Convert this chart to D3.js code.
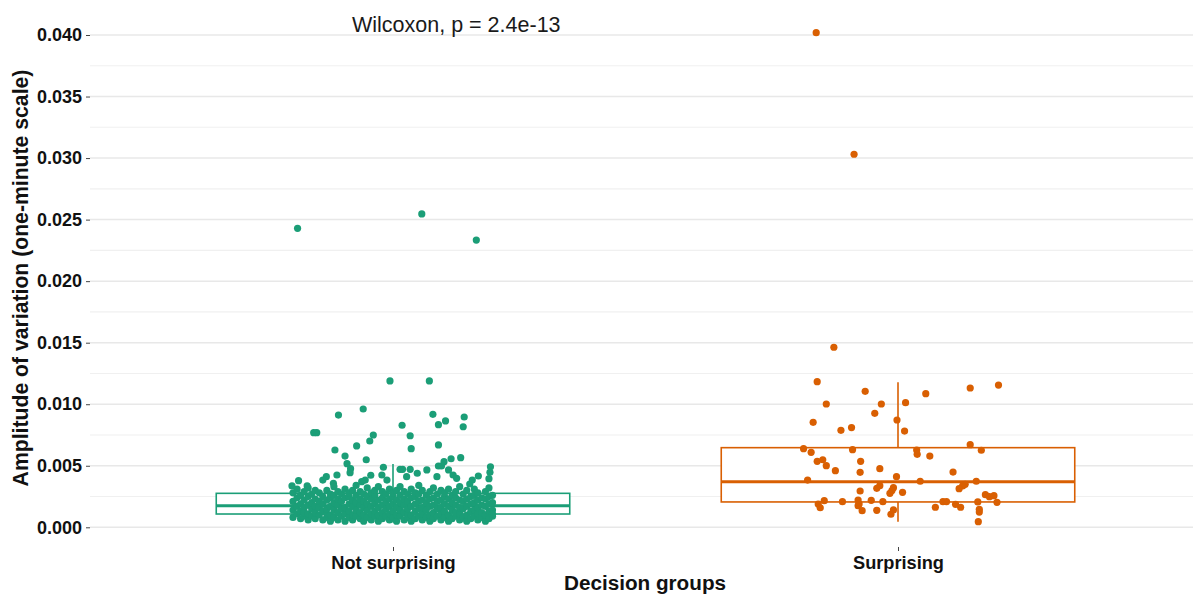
<!DOCTYPE html>
<html><head><meta charset="utf-8">
<script src="https://cdn.jsdelivr.net/npm/d3@7"></script>
<style>body{margin:0;background:#fff}svg{display:block}text{font-family:"Liberation Sans",Arial,sans-serif}</style>
</head><body><svg id="chart" width="1193" height="597"></svg>
<script>
// ---------------- data ----------------
const categories = ["Not surprising", "Surprising"];
const colors = ["#1B9E77", "#D95F02"];
const yTicks = [0, 0.005, 0.01, 0.015, 0.02, 0.025, 0.03, 0.035, 0.04];
const yMinor = [0.0025, 0.0075, 0.0125, 0.0175, 0.0225, 0.0275, 0.0325, 0.0375];
// box stats: [lower whisker, Q1, median, Q3, upper whisker]
const boxNotSurprising = [0.0004, 0.00108, 0.00176, 0.00276, 0.00514];
const boxSurprising = [0.00046, 0.00206, 0.00371, 0.00647, 0.01178];
const annotation = "Wilcoxon, p = 2.4e-13";
// points: [jitter (category units), value]
const notSurprisingPoints = [
[-0.189,0.02429],[0.057,0.02546],[0.165,0.02334],
[-0.006,0.01189],[0.072,0.01189],[-0.059,0.00961],[-0.108,0.00912],[0.079,0.00918],[0.090,0.00834],
[0.104,0.00864],[0.141,0.00896],[0.139,0.00817],[-0.157,0.00769],[-0.151,0.00769],[0.018,0.00829],
[0.034,0.00744],[-0.039,0.00750],[-0.046,0.00701],[-0.072,0.00661],[0.036,0.00639],[0.090,0.00669],
[-0.115,0.00628],[-0.095,0.00579],[-0.053,0.00549],[-0.091,0.00517],[-0.084,0.00476],[-0.085,0.00444],
[-0.019,0.00488],[0.014,0.00471],[0.019,0.00471],[0.034,0.00471],[0.067,0.00466],[0.090,0.00498],
[0.096,0.00498],[0.101,0.00533],[0.115,0.00557],[0.134,0.00566],[0.193,0.00492],[0.192,0.00447],
[0.190,0.00395],[-0.044,0.00423],[-0.055,0.00384],[-0.062,0.00371],[-0.022,0.00425],[-0.012,0.00384],
[0.027,0.00411],[0.048,0.00439],[0.087,0.00411],[0.110,0.00466],[0.119,0.00425],[0.126,0.00398],
[0.152,0.00352],[0.157,0.00384],[0.169,0.00417],[-0.132,0.00411],[-0.139,0.00384],[-0.187,0.00379],
[-0.200,0.00336],[-0.170,0.00336],[-0.118,0.00358],[-0.111,0.00425],
[-0.198,0.0008],[-0.198,0.0014],[-0.198,0.0021],[-0.198,0.0028],
[-0.190,0.0011],[-0.190,0.0017],[-0.190,0.0024],[-0.190,0.0031],
[-0.183,0.0007],[-0.183,0.0013],[-0.183,0.0019],[-0.183,0.0026],
[-0.176,0.0009],[-0.176,0.0016],[-0.176,0.0022],[-0.176,0.0029],[-0.176,0.0012],
[-0.168,0.0006],[-0.168,0.0011],[-0.168,0.0018],[-0.168,0.0025],[-0.168,0.0032],
[-0.161,0.0009],[-0.161,0.0015],[-0.161,0.0020],[-0.161,0.0027],
[-0.154,0.0007],[-0.154,0.0012],[-0.154,0.0017],[-0.154,0.0023],[-0.154,0.0030],
[-0.146,0.0010],[-0.146,0.0016],[-0.146,0.0021],[-0.146,0.0028],
[-0.139,0.0006],[-0.139,0.0013],[-0.139,0.0019],[-0.139,0.0025],
[-0.131,0.0008],[-0.131,0.0011],[-0.131,0.0015],[-0.131,0.0022],[-0.131,0.0030],
[-0.124,0.0005],[-0.124,0.0010],[-0.124,0.0017],[-0.124,0.0024],[-0.124,0.0027],
[-0.117,0.0008],[-0.117,0.0014],[-0.117,0.0020],[-0.117,0.0026],[-0.117,0.0033],
[-0.109,0.0006],[-0.109,0.0012],[-0.109,0.0018],[-0.109,0.0023],[-0.109,0.0029],
[-0.102,0.0009],[-0.102,0.0015],[-0.102,0.0021],[-0.102,0.0027],
[-0.095,0.0005],[-0.095,0.0011],[-0.095,0.0016],[-0.095,0.0024],[-0.095,0.0031],
[-0.087,0.0008],[-0.087,0.0013],[-0.087,0.0019],[-0.087,0.0025],[-0.087,0.0028],
[-0.080,0.0006],[-0.080,0.0010],[-0.080,0.0017],[-0.080,0.0022],[-0.080,0.0030],
[-0.073,0.0009],[-0.073,0.0014],[-0.073,0.0020],[-0.073,0.0026],[-0.073,0.0034],
[-0.065,0.0007],[-0.065,0.0012],[-0.065,0.0018],[-0.065,0.0023],[-0.065,0.0029],
[-0.058,0.0005],[-0.058,0.0010],[-0.058,0.0016],[-0.058,0.0021],[-0.058,0.0027],
[-0.051,0.0008],[-0.051,0.0014],[-0.051,0.0019],[-0.051,0.0025],[-0.051,0.0032],
[-0.043,0.0006],[-0.043,0.0011],[-0.043,0.0017],[-0.043,0.0023],[-0.043,0.0028],
[-0.036,0.0009],[-0.036,0.0013],[-0.036,0.0020],[-0.036,0.0026],[-0.036,0.0030],
[-0.029,0.0005],[-0.029,0.0010],[-0.029,0.0016],[-0.029,0.0022],[-0.029,0.0033],
[-0.021,0.0007],[-0.021,0.0012],[-0.021,0.0018],[-0.021,0.0024],[-0.021,0.0029],
[-0.014,0.0009],[-0.014,0.0015],[-0.014,0.0021],[-0.014,0.0027],
[-0.007,0.0006],[-0.007,0.0011],[-0.007,0.0017],[-0.007,0.0023],[-0.007,0.0031],
[0.000,0.0008],[0.000,0.0013],[0.000,0.0019],[0.000,0.0025],[0.000,0.0028],
[0.007,0.0005],[0.007,0.0010],[0.007,0.0016],[0.007,0.0022],[0.007,0.0030],
[0.014,0.0009],[0.014,0.0014],[0.014,0.0020],[0.014,0.0026],[0.014,0.0033],
[0.022,0.0006],[0.022,0.0012],[0.022,0.0018],[0.022,0.0023],[0.022,0.0029],
[0.029,0.0008],[0.029,0.0011],[0.029,0.0015],[0.029,0.0021],[0.029,0.0027],
[0.036,0.0005],[0.036,0.0010],[0.036,0.0017],[0.036,0.0024],[0.036,0.0031],
[0.044,0.0007],[0.044,0.0013],[0.044,0.0019],[0.044,0.0025],[0.044,0.0028],
[0.051,0.0009],[0.051,0.0015],[0.051,0.0021],[0.051,0.0027],[0.051,0.0034],
[0.058,0.0006],[0.058,0.0011],[0.058,0.0016],[0.058,0.0022],[0.058,0.0030],
[0.066,0.0008],[0.066,0.0014],[0.066,0.0020],[0.066,0.0026],
[0.073,0.0005],[0.073,0.0010],[0.073,0.0017],[0.073,0.0023],[0.073,0.0029],
[0.080,0.0007],[0.080,0.0012],[0.080,0.0018],[0.080,0.0024],[0.080,0.0032],
[0.088,0.0009],[0.088,0.0015],[0.088,0.0021],[0.088,0.0027],
[0.095,0.0006],[0.095,0.0011],[0.095,0.0016],[0.095,0.0022],[0.095,0.0030],
[0.102,0.0008],[0.102,0.0013],[0.102,0.0019],[0.102,0.0025],[0.102,0.0028],
[0.110,0.0005],[0.110,0.0010],[0.110,0.0017],[0.110,0.0023],[0.110,0.0031],
[0.117,0.0007],[0.117,0.0014],[0.117,0.0020],[0.117,0.0026],
[0.124,0.0009],[0.124,0.0012],[0.124,0.0018],[0.124,0.0024],[0.124,0.0029],
[0.132,0.0006],[0.132,0.0011],[0.132,0.0016],[0.132,0.0022],[0.132,0.0033],
[0.139,0.0008],[0.139,0.0015],[0.139,0.0021],[0.139,0.0027],
[0.146,0.0005],[0.146,0.0010],[0.146,0.0017],[0.146,0.0023],[0.146,0.0030],
[0.154,0.0007],[0.154,0.0013],[0.154,0.0019],[0.154,0.0025],
[0.161,0.0009],[0.161,0.0014],[0.161,0.0020],[0.161,0.0026],[0.161,0.0031],
[0.168,0.0006],[0.168,0.0011],[0.168,0.0016],[0.168,0.0022],[0.168,0.0028],
[0.176,0.0008],[0.176,0.0012],[0.176,0.0018],[0.176,0.0024],
[0.183,0.0005],[0.183,0.0010],[0.183,0.0017],[0.183,0.0023],[0.183,0.0029],
[0.190,0.0007],[0.190,0.0013],[0.190,0.0019],[0.190,0.0025],[0.190,0.0032],
[0.197,0.0009],[0.197,0.0014],[0.197,0.0020],[0.197,0.0026],[0.197,0.0011]
];
const surprisingPoints = [
[-0.162,0.04019],[-0.087,0.03031],
[-0.127,0.01463],[-0.160,0.01183],[-0.065,0.01105],[0.143,0.01132],[0.199,0.01156],[0.055,0.01086],
[-0.142,0.01002],[-0.033,0.01002],[0.015,0.01013],[-0.046,0.00926],[-0.002,0.00872],[-0.168,0.00853],
[0.013,0.00782],[-0.113,0.00788],[-0.092,0.00810],[0.143,0.00671],[-0.187,0.00639],[-0.172,0.00609],
[-0.090,0.00631],[0.037,0.00628],[0.038,0.00593],[0.063,0.00579],[0.165,0.00626],[-0.160,0.00536],
[-0.149,0.00549],[-0.142,0.00501],[-0.124,0.00460],[-0.074,0.00536],[-0.075,0.00447],[-0.036,0.00476],
[0.109,0.00449],[-0.003,0.00411],[-0.179,0.00384],[0.044,0.00374],[0.155,0.00374],[-0.036,0.00338],
[-0.042,0.00317],[-0.009,0.00322],[-0.012,0.00298],[-0.016,0.00276],[0.009,0.00284],[-0.075,0.00295],
[0.133,0.00349],[0.128,0.00336],[0.121,0.00314],[0.173,0.00265],[0.181,0.00249],[0.190,0.00257],
[0.196,0.00203],[-0.146,0.00216],[-0.158,0.00189],[-0.154,0.00159],[-0.110,0.00208],[-0.079,0.00222],
[-0.079,0.00176],[-0.071,0.00135],[-0.053,0.00219],[-0.030,0.00208],[-0.042,0.00138],[-0.014,0.00106],
[-0.009,0.00141],[0.074,0.00163],[0.089,0.00208],[0.096,0.00208],[0.114,0.00187],[0.124,0.00163],
[0.158,0.00206],[0.161,0.00146],[0.161,0.00124],[0.159,0.00046],[-0.077,0.00190]
];
const pointSets = [notSurprisingPoints, surprisingPoints];
const boxes = [boxNotSurprising, boxSurprising];

// ---------------- layout ----------------
(function () {
const svg = d3.select("#chart");
const pL = 90, pR = 1201, pB = 547;
const x = d3.scaleLinear().domain([0.4, 2.6]).range([pL, pR]);
const y = d3.scaleLinear().domain([0, 0.04]).range([527.3, 35]);
const boxHalf = 0.35;
const ff = '"Liberation Sans", Arial, sans-serif';

// grid
svg.append("g").selectAll("line").data(yMinor).join("line")
  .attr("x1", pL).attr("x2", pR).attr("y1", d => y(d)).attr("y2", d => y(d))
  .attr("stroke", "#f0f0f0").attr("stroke-width", 1.1);
svg.append("g").selectAll("line").data(yTicks).join("line")
  .attr("x1", pL).attr("x2", pR).attr("y1", d => y(d)).attr("y2", d => y(d))
  .attr("stroke", "#e8e8e8").attr("stroke-width", 1.5);

// y axis
const yAxis = d3.axisLeft(y).tickValues(yTicks).tickFormat(d3.format(".3f")).tickSize(4).tickPadding(4);
const gy = svg.append("g").attr("transform", `translate(${pL},0)`).call(yAxis);
gy.select(".domain").remove();
gy.selectAll(".tick line").attr("stroke", "#444").attr("stroke-width", 1);
gy.selectAll(".tick text").attr("font-size", "18px").attr("font-weight", "bold")
  .attr("fill", "#111").style("font-family", ff);

// x axis
const xAxis = d3.axisBottom(x).tickValues([1, 2]).tickFormat((d, i) => categories[i]).tickSize(4).tickPadding(5);
const gx = svg.append("g").attr("transform", `translate(0,${pB})`).call(xAxis);
gx.select(".domain").remove();
gx.selectAll(".tick line").attr("stroke", "#444").attr("stroke-width", 1);
gx.selectAll(".tick text").attr("font-size", "18.2px").attr("font-weight", "bold")
  .attr("fill", "#111").style("font-family", ff);

// boxplots
boxes.forEach((b, i) => {
  const cx = x(i + 1), c = colors[i];
  const g = svg.append("g");
  g.append("line").attr("x1", cx).attr("x2", cx).attr("y1", y(b[3])).attr("y2", y(b[4])).attr("stroke", c).attr("stroke-width", 1.6);
  g.append("line").attr("x1", cx).attr("x2", cx).attr("y1", y(b[0])).attr("y2", y(b[1])).attr("stroke", c).attr("stroke-width", 1.6);
  g.append("rect").attr("x", x(i + 1 - boxHalf)).attr("width", x(i + 1 + boxHalf) - x(i + 1 - boxHalf))
    .attr("y", y(b[3])).attr("height", y(b[1]) - y(b[3])).attr("fill", "#fff").attr("stroke", c).attr("stroke-width", 1.6);
  g.append("line").attr("x1", x(i + 1 - boxHalf)).attr("x2", x(i + 1 + boxHalf)).attr("y1", y(b[2])).attr("y2", y(b[2]))
    .attr("stroke", c).attr("stroke-width", 3);
});

// points
pointSets.forEach((pts, i) => {
  svg.append("g").selectAll("circle").data(pts).join("circle")
    .attr("cx", d => x(i + 1 + d[0])).attr("cy", d => y(d[1])).attr("r", 3.6).attr("fill", colors[i]);
});

// annotation
svg.append("text").attr("x", 352).attr("y", 32).attr("font-size", "21.5px").attr("fill", "#1a1a1a").text(annotation);

// axis titles
svg.append("text").attr("x", 645).attr("y", 590).attr("text-anchor", "middle").attr("font-size", "20.7px")
  .attr("font-weight", "bold").attr("fill", "#111").text("Decision groups");
svg.append("text").attr("transform", "translate(28,278) rotate(-90)").attr("text-anchor", "middle")
  .attr("font-size", "21.2px").attr("font-weight", "bold").attr("fill", "#111").text("Amplitude of variation (one-minute scale)");
})();
</script></body></html>
